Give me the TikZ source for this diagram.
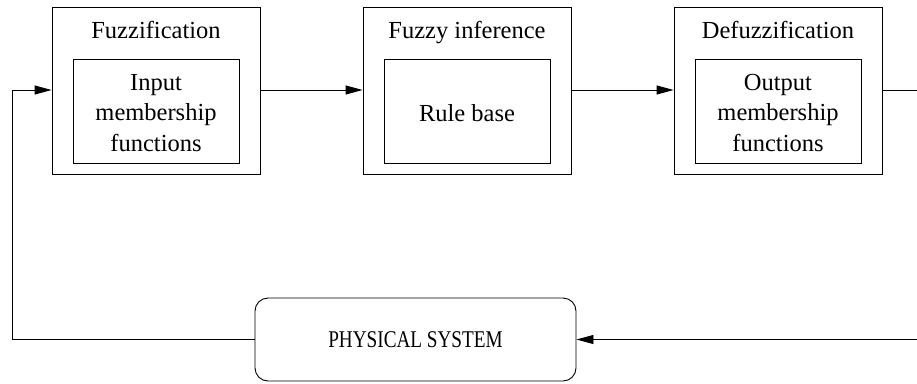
\documentclass[tikz,border=0pt]{standalone}
\usepackage{fontspec}
\setmainfont{Liberation Serif}
\usetikzlibrary{arrows.meta}
\begin{document}
\begin{tikzpicture}[x=1pt,y=-1pt,
  line width=0.9pt,
  outerbox/.style={draw, minimum width=208pt, minimum height=167pt, inner sep=0pt},
  innerbox/.style={draw, minimum width=166pt, minimum height=104pt, inner sep=0pt},
  boxtext/.style={align=center, inner sep=0pt, font=\fontsize{24.5}{30.5}\selectfont},
  title/.style={anchor=base, font=\fontsize{24.5}{28}\selectfont, inner sep=0pt},
  flow/.style={-{Triangle[length=17pt,width=9pt]}},
  plant/.style={draw, rounded corners=13pt, minimum width=321pt, minimum height=83pt,
    inner sep=0pt}]
\useasboundingbox (0,0) rectangle (917,383);

% controller stages
\node[outerbox] (fz) at (156,90.5) {};
\node[innerbox] (fzi) at (156,111) {};
\node[boxtext] (fzx) at (156,113) {Input\\membership\\functions};
\node[title] (fzt) at (156,38.5) {Fuzzification};

\node[outerbox] (fi) at (467,90.5) {};
\node[innerbox] (fii) at (467,111) {};
\node[boxtext] (fix) at (467,113.5) {Rule base};
\node[title] (fit) at (467,38.5) {Fuzzy inference};

\node[outerbox] (df) at (778,90.5) {};
\node[innerbox] (dfi) at (778,111) {};
\node[boxtext] (dfx) at (778,113) {Output\\membership\\functions};
\node[title] (dft) at (778,38.5) {Defuzzification};

% plant
\node[plant] (ps) at (415.5,339.5) {\fontsize{24}{28}\selectfont\scalebox{0.8}[1]{PHYSICAL SYSTEM}};

% loop connectors
\coordinate (r1) at (920,90);
\coordinate (r2) at (920,339.5);
\coordinate (l1) at (12,339.5);
\coordinate (l2) at (12,90);

\draw[flow] (fz.east |- 0,90) -- (fi.west |- 0,90);
\draw[flow] (fi.east |- 0,90) -- (df.west |- 0,90);
\draw[flow] (df.east |- 0,90) -- (r1) -- (r2) -- (ps.east);
\draw[flow] (ps.west) -- (l1) -- (l2) -- (fz.west |- 0,90);
\end{tikzpicture}
\end{document}
